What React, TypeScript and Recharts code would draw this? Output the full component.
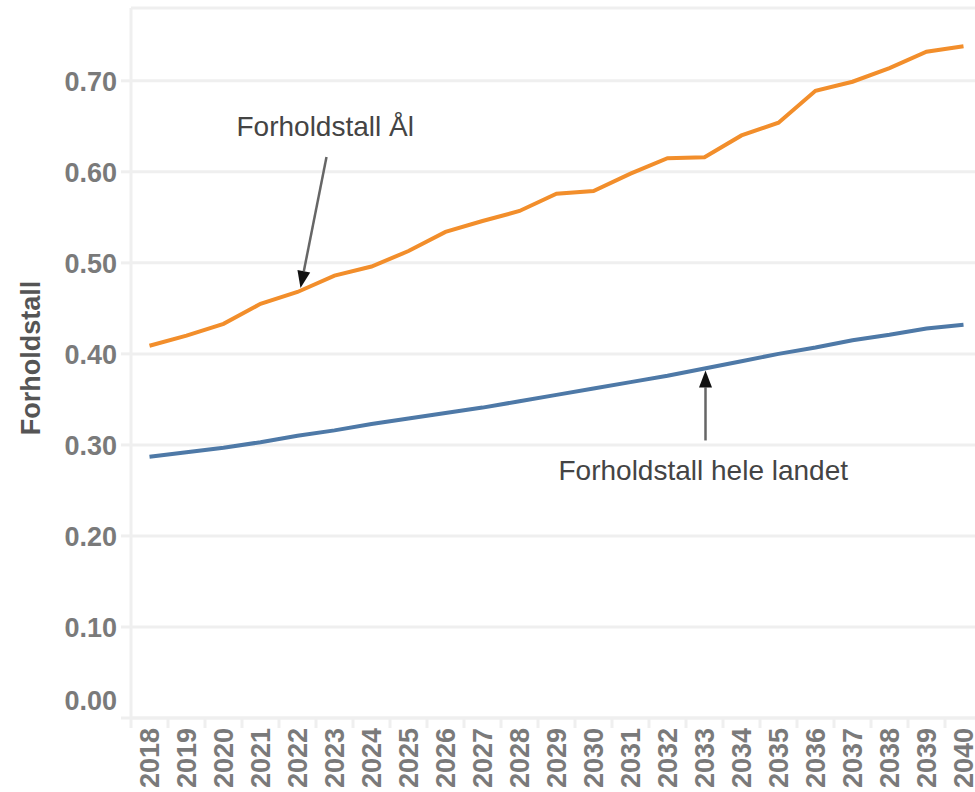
import React from "react";
import { LineChart, Line, XAxis, YAxis, CartesianGrid, ReferenceDot } from "recharts";

const YEARS = [
  "2018", "2019", "2020", "2021", "2022", "2023", "2024", "2025", "2026", "2027", "2028", "2029",
  "2030", "2031", "2032", "2033", "2034", "2035", "2036", "2037", "2038", "2039", "2040",
];

// Forholdstall Ål
const AAL = [
  0.409, 0.42, 0.433, 0.455, 0.468, 0.486, 0.496, 0.513, 0.534, 0.546, 0.557, 0.576,
  0.579, 0.598, 0.615, 0.616, 0.64, 0.654, 0.689, 0.699, 0.714, 0.732, 0.738,
];

// Forholdstall hele landet
const LANDET = [
  0.287, 0.292, 0.297, 0.303, 0.31, 0.316, 0.323, 0.329, 0.335, 0.341, 0.348, 0.355,
  0.362, 0.369, 0.376, 0.384, 0.392, 0.4, 0.407, 0.415, 0.421, 0.428, 0.432,
];

const Y_TICKS = [0, 0.1, 0.2, 0.3, 0.4, 0.5, 0.6, 0.7];

const data = YEARS.map((year, i) => ({ year, aal: AAL[i], landet: LANDET[i] }));

const FONT = "'Liberation Sans', Arial, Helvetica, sans-serif";
const TICK_GREY = "#7a7a7a";
const LIGHT = "#efefef";

const CHART_W = 1000;
const CHART_H = 792;
const AXIS_W = 131;
const RIGHT = 18;
const BAND = (CHART_W - AXIS_W - RIGHT) / YEARS.length;

function YearTick({ x, y, payload }: any) {
  const sep = x - BAND / 2;
  const tx = x + 9;
  const ty = y + 10;
  return (
    <g>
      <line x1={sep} x2={sep} y1={y} y2={y + 10} stroke={LIGHT} strokeWidth={3} />
      <text
        x={tx}
        y={ty}
        transform={`rotate(-90, ${tx}, ${ty})`}
        textAnchor="end"
        fontFamily={FONT}
        fontWeight="bold"
        fontSize={27}
        fill={TICK_GREY}
      >
        {payload.value}
      </text>
    </g>
  );
}

function ValueTick({ x, y, payload }: any) {
  const shift = payload.value === 0 ? -18 : 0;
  return (
    <text
      x={x}
      y={y + shift}
      dy="0.36em"
      textAnchor="end"
      fontFamily={FONT}
      fontWeight="bold"
      fontSize={27}
      fill={TICK_GREY}
    >
      {Number(payload.value).toFixed(2)}
    </text>
  );
}

function AxisTitle({ viewBox }: any) {
  const x = viewBox.x + 31;
  const y = viewBox.y + viewBox.height / 2 - 5;
  return (
    <text
      x={x}
      y={y}
      transform={`rotate(-90, ${x}, ${y})`}
      textAnchor="middle"
      dominantBaseline="central"
      fontFamily={FONT}
      fontWeight="bold"
      fontSize={27}
      fill="#555"
    >
      Forholdstall
    </text>
  );
}

function Callout({ cx, cy, text, textDx, textDy, from, to }: any) {
  const x1 = cx + from[0];
  const y1 = cy + from[1];
  const x2 = cx + to[0];
  const y2 = cy + to[1];
  const len = Math.hypot(x2 - x1, y2 - y1);
  const ux = (x2 - x1) / len;
  const uy = (y2 - y1) / len;
  const head = 17;
  const half = 6.5;
  const bx = x2 - ux * head;
  const by = y2 - uy * head;
  const pts = `${x2},${y2} ${bx - uy * half},${by + ux * half} ${bx + uy * half},${by - ux * half}`;
  return (
    <g>
      <line x1={x1} y1={y1} x2={bx} y2={by} stroke="#666" strokeWidth={2.5} />
      <polygon points={pts} fill="#111" />
      <text x={cx + textDx} y={cy + textDy} fontFamily={FONT} fontSize={28} fill="#444">
        {text}
      </text>
    </g>
  );
}

export default function App() {
  return (
    <div
      style={{
        position: "absolute",
        left: 0,
        top: 0,
        width: 975,
        height: 792,
        overflow: "hidden",
        background: "#fff",
      }}
    >
      <LineChart
        width={CHART_W}
        height={CHART_H}
        data={data}
        margin={{ top: 8, right: RIGHT, left: 0, bottom: 0 }}
      >
        <CartesianGrid vertical={false} stroke={LIGHT} strokeWidth={3} />
        <XAxis
          dataKey="year"
          scale="band"
          interval={0}
          height={74}
          tickSize={0}
          tickMargin={0}
          tickLine={false}
          axisLine={{ stroke: LIGHT, strokeWidth: 3 }}
          tick={(props: any) => <YearTick {...props} />}
        />
        <YAxis
          width={AXIS_W}
          domain={[0, 0.78]}
          ticks={Y_TICKS}
          allowDataOverflow
          tickSize={10}
          tickMargin={4}
          tickLine={{ stroke: LIGHT, strokeWidth: 3 }}
          axisLine={{ stroke: LIGHT, strokeWidth: 3 }}
          tick={(props: any) => <ValueTick {...props} />}
          label={(props: any) => <AxisTitle {...props} />}
        />
        <Line
          type="linear"
          dataKey="landet"
          stroke="#4e79a7"
          strokeWidth={4}
          dot={false}
          activeDot={false}
          isAnimationActive={false}
        />
        <Line
          type="linear"
          dataKey="aal"
          stroke="#f28e2b"
          strokeWidth={4}
          dot={false}
          activeDot={false}
          isAnimationActive={false}
        />
        <ReferenceDot
          x={YEARS[4]}
          y={AAL[4]}
          shape={(p: any) => (
            <Callout
              cx={p.cx}
              cy={p.cy}
              text="Forholdstall Ål"
              textDx={-61}
              textDy={-156}
              from={[29, -135]}
              to={[3, -4]}
            />
          )}
        />
        <ReferenceDot
          x={YEARS[15]}
          y={LANDET[15]}
          shape={(p: any) => (
            <Callout
              cx={p.cx}
              cy={p.cy}
              text="Forholdstall hele landet"
              textDx={-146}
              textDy={112}
              from={[1, 72]}
              to={[1, 2]}
            />
          )}
        />
      </LineChart>
    </div>
  );
}
